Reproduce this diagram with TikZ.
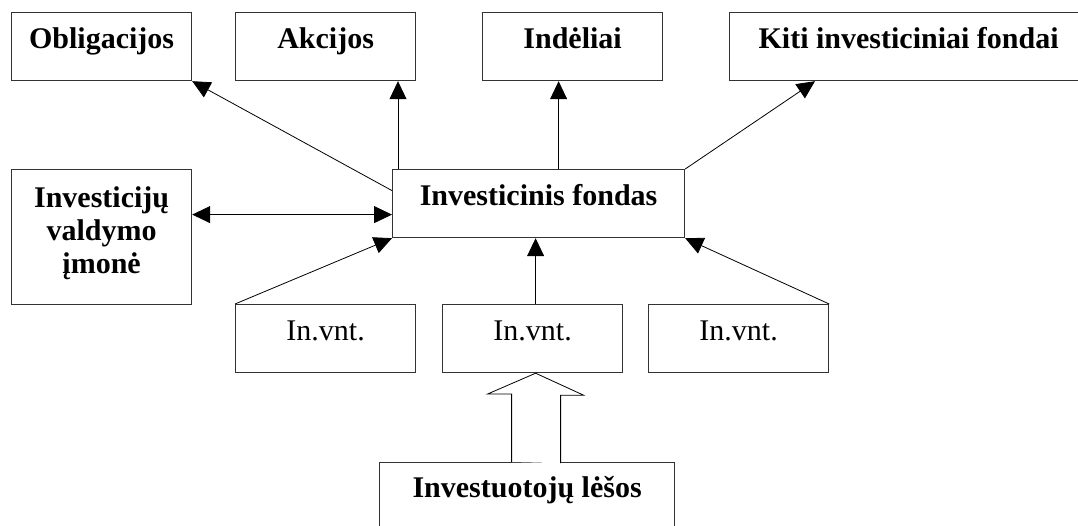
\documentclass[tikz,border=0pt]{standalone}
\usepackage{fontspec}
\setmainfont{Liberation Serif}
\usetikzlibrary{arrows.meta}
\tikzset{
  box/.style={draw=black!80, line width=1.2pt, rectangle, anchor=north west,
    inner xsep=0pt, inner ysep=0pt, minimum height=68pt, text height=36pt, text depth=32pt,
    font=\fontsize{30}{33}\selectfont},
  bbox/.style={box, font=\fontsize{30}{33}\selectfont\bfseries},
  conn/.style={line width=0.8pt, draw=black},
  arr/.style={conn, -{Triangle[length=18pt,width=17pt]}},
  darr/.style={conn, {Triangle[length=18pt,width=17pt]}-{Triangle[length=18pt,width=17pt]}},
  hollow/.style={line width=0.8pt, draw=black, fill=white},
}
\begin{document}
\begin{tikzpicture}[x=1pt,y=-1pt]
\useasboundingbox (0,0) rectangle (1078,525);
\clip (0,0) rectangle (1078,525);
\node[bbox, minimum width=180pt] (obl) at (11,12) {Obligacijos};
\node[bbox, minimum width=180pt] (akc) at (235,12) {Akcijos};
\node[bbox, minimum width=180pt] (ind) at (482,12) {Indėliai};
\node[bbox, minimum width=358pt] (kiti) at (729,12) {Kiti investiciniai fondai};
\node[bbox, minimum width=292pt] (if) at (392,169) {Investicinis fondas};
\node[bbox, minimum width=180pt, minimum height=135pt, text height=38pt, text depth=97pt] (val) at (11,169)
  {\begin{tabular}[t]{@{}c@{}}Investicijų\\valdymo\\įmonė\end{tabular}};
\node[box, minimum width=180pt] (inl) at (235,304) {In.vnt.};
\node[box, minimum width=180pt] (inm) at (442,304) {In.vnt.};
\node[box, minimum width=180pt] (inr) at (648,304) {In.vnt.};
\node[bbox, minimum width=295pt, minimum height=110pt, text height=35pt, text depth=75pt] (les) at (379,462) {Investuotojų lėšos};
% connectors from the fund upwards
\coordinate (oblstart) at ([yshift=13pt]if.west);
\draw[arr] (oblstart) -- (obl.south east);
\coordinate (akcstart) at ([xshift=6pt]if.north west);
\draw[arr] (akcstart) -- (akcstart |- akc.south);
\coordinate (indstart) at ([xshift=20pt]if.north);
\draw[arr] (indstart) -- (indstart |- ind.south);
\coordinate (kitiend) at ([xshift=86pt]kiti.south west);
\draw[arr] (if.north east) -- (kitiend);
% management company
\coordinate (dm) at ([yshift=-11pt]if.west);
\draw[darr] (val.east |- dm) -- (dm);
% units to fund
\draw[arr] (inl.north west) -- (if.south west);
\coordinate (mid) at ([xshift=3pt]inm.north);
\draw[arr] (mid) -- (mid |- if.south);
\draw[arr] (inr.north east) -- (if.south east);
% hollow arrow from investors' funds
\coordinate (tip) at ([xshift=3pt]inm.south);
\draw[hollow] (tip |- les.north) ++(-24,0) -- ++(0,-68) -- ++(-24,0) -- (tip)
  -- ++(48,22) -- ++(-23,0) -- ++(0,68);
\end{tikzpicture}
\end{document}
